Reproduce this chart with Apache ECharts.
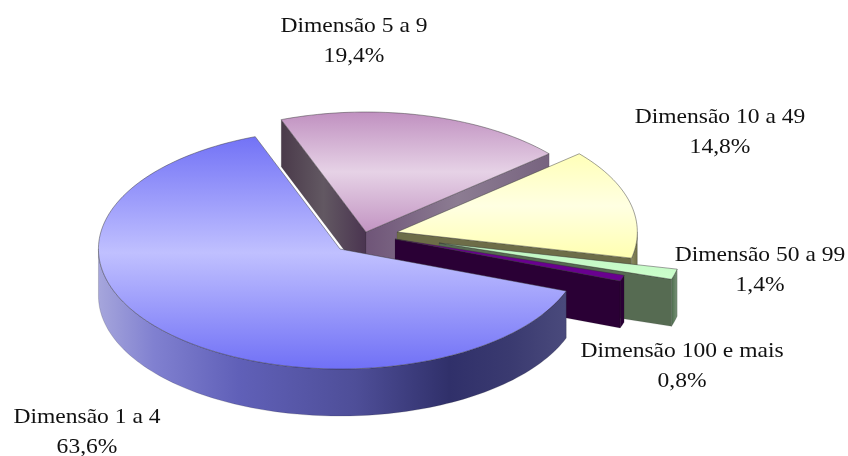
<!DOCTYPE html>
<html><head><meta charset="utf-8">
<style>html,body{margin:0;padding:0;background:#fff}#c{width:848px;height:456px}</style>
<script src="https://cdn.jsdelivr.net/npm/echarts@6/dist/echarts.min.js"></script>
</head><body><div id="c"></div>
<script>
const categories = ['Dimensão 1 a 4','Dimensão 5 a 9','Dimensão 10 a 49','Dimensão 50 a 99','Dimensão 100 e mais'];
const shares = [63.6,19.4,14.8,1.4,0.8];
const paintOrder = [1,2,3,4,0];

// layout of the tilted pie (not data)
const firstAngle = 110.5, rx = 244, ry = 120, depth = 47;
const pieCentre = [372,237];
const explode = [[-32,12],[-6,-5],[25,-5],[67,6],[23,2]];
const widthScale = [.99,.99,.985,1,.985];
const labelAt = [[87,432],[354,41],[720,132],[760,270],[682,366]];

const G = (h,stops)=> new echarts.graphic.LinearGradient(0,0,h?1:0,h?0:1,
  stops.map((c,i)=>Array.isArray(c)?{offset:c[0],color:c[1]}:{offset:i/(stops.length-1),color:c}));
const looks = [
 {top:G(0,['#7272f6','#c0c0ff','#7070f6']), rim:G(1,[[0,'#a6a6dc'],[.12,'#8080d0'],[.3,'#6060b8'],[.55,'#4e4e98'],[.75,'#30306a'],[.88,'#3a3a70'],[1,'#4a4a7c']]), a:'#3a3a70', b:'#3a3a70'},
 {top:G(0,['#c090c0','#e6d2e6','#c294c2']), rim:'#6b5a6b', a:G(1,['#4a3a4a','#625862','#4a3450']), b:G(1,['#6f5578','#8c7c92','#77637f'])},
 {top:G(0,['#ffffb8','#ffffe2','#ffffb0']), rim:G(1,['#8e8e62','#6e6e48']), a:'#6b6b44', b:'#6d6d48'},
 {top:G(0,['#bff5c2','#ccffcc']), rim:G(1,['#4c6c4c','#7a947a']), a:'#566b52', b:'#566b52'},
 {top:'#69008f', rim:'#2a0035', a:'#2a0035', b:'#2a0035'}
];

const pct = v => v.toFixed(1).replace('.',',') + '%';
const total = shares.reduce((s,v)=>s+v,0);
const rad = d => d*Math.PI/180;

function renderItem(params, api){
  const i = api.value(0);
  const before = shares.slice(0,i).reduce((s,v)=>s+v,0);
  const a0 = firstAngle + before/total*360, a1 = a0 + api.value(1)/total*360;
  const cx = pieCentre[0]+explode[i][0], cy = pieCentre[1]+explode[i][1], w = rx*widthScale[i];
  const pt = (d,dz)=>[cx+w*Math.sin(rad(d)), cy-ry*Math.cos(rad(d))+(dz||0)];
  const arc = (s,e,dz)=>{const n=Math.max(2,Math.ceil((e-s)/1.5)),o=[];for(let k=0;k<=n;k++)o.push(pt(s+(e-s)*k/n,dz));return o;};
  const look = looks[i], kids = [];
  const line = {stroke:'rgba(50,50,50,.65)',lineWidth:.7};
  const wall = (d,fill)=>kids.push({type:'polygon',shape:{points:[[cx,cy],pt(d),pt(d,depth),[cx,cy+depth]]},style:{fill,stroke:'rgba(30,30,30,.25)',lineWidth:.5}});
  if(Math.sin(rad(a0))<0) wall(a0,look.a);
  if(Math.sin(rad(a1))>0) wall(a1,look.b);
  for(const shift of [0,360]){
    const s=Math.max(a0,90+shift), e=Math.min(a1,270+shift);
    if(e>s) kids.push({type:'polygon',shape:{points:arc(s,e,0).concat(arc(s,e,depth).reverse())},style:{fill:look.rim,stroke:'rgba(30,30,30,.35)',lineWidth:.5}});
  }
  kids.push({type:'polygon',shape:{points:[[cx,cy]].concat(arc(a0,a1,0))},style:Object.assign({fill:look.top},line)});
  kids.push({type:'text',x:labelAt[i][0],y:labelAt[i][1],scaleX:1.12,
    style:{text:categories[i]+'\n'+pct(shares[i]),x:0,y:0,align:'center',verticalAlign:'middle',
      font:'21px "Liberation Serif"',lineHeight:30,fill:'#111'}});
  return {type:'group',children:kids};
}

const chart = echarts.init(document.getElementById('c'),null,{renderer:'canvas'});
chart.setOption({animation:false,backgroundColor:'#fff',
  series:[{type:'custom',coordinateSystem:'none',silent:true,clip:false,renderItem,
    data:paintOrder.map(i=>[i,shares[i]])}]});
</script></body></html>
